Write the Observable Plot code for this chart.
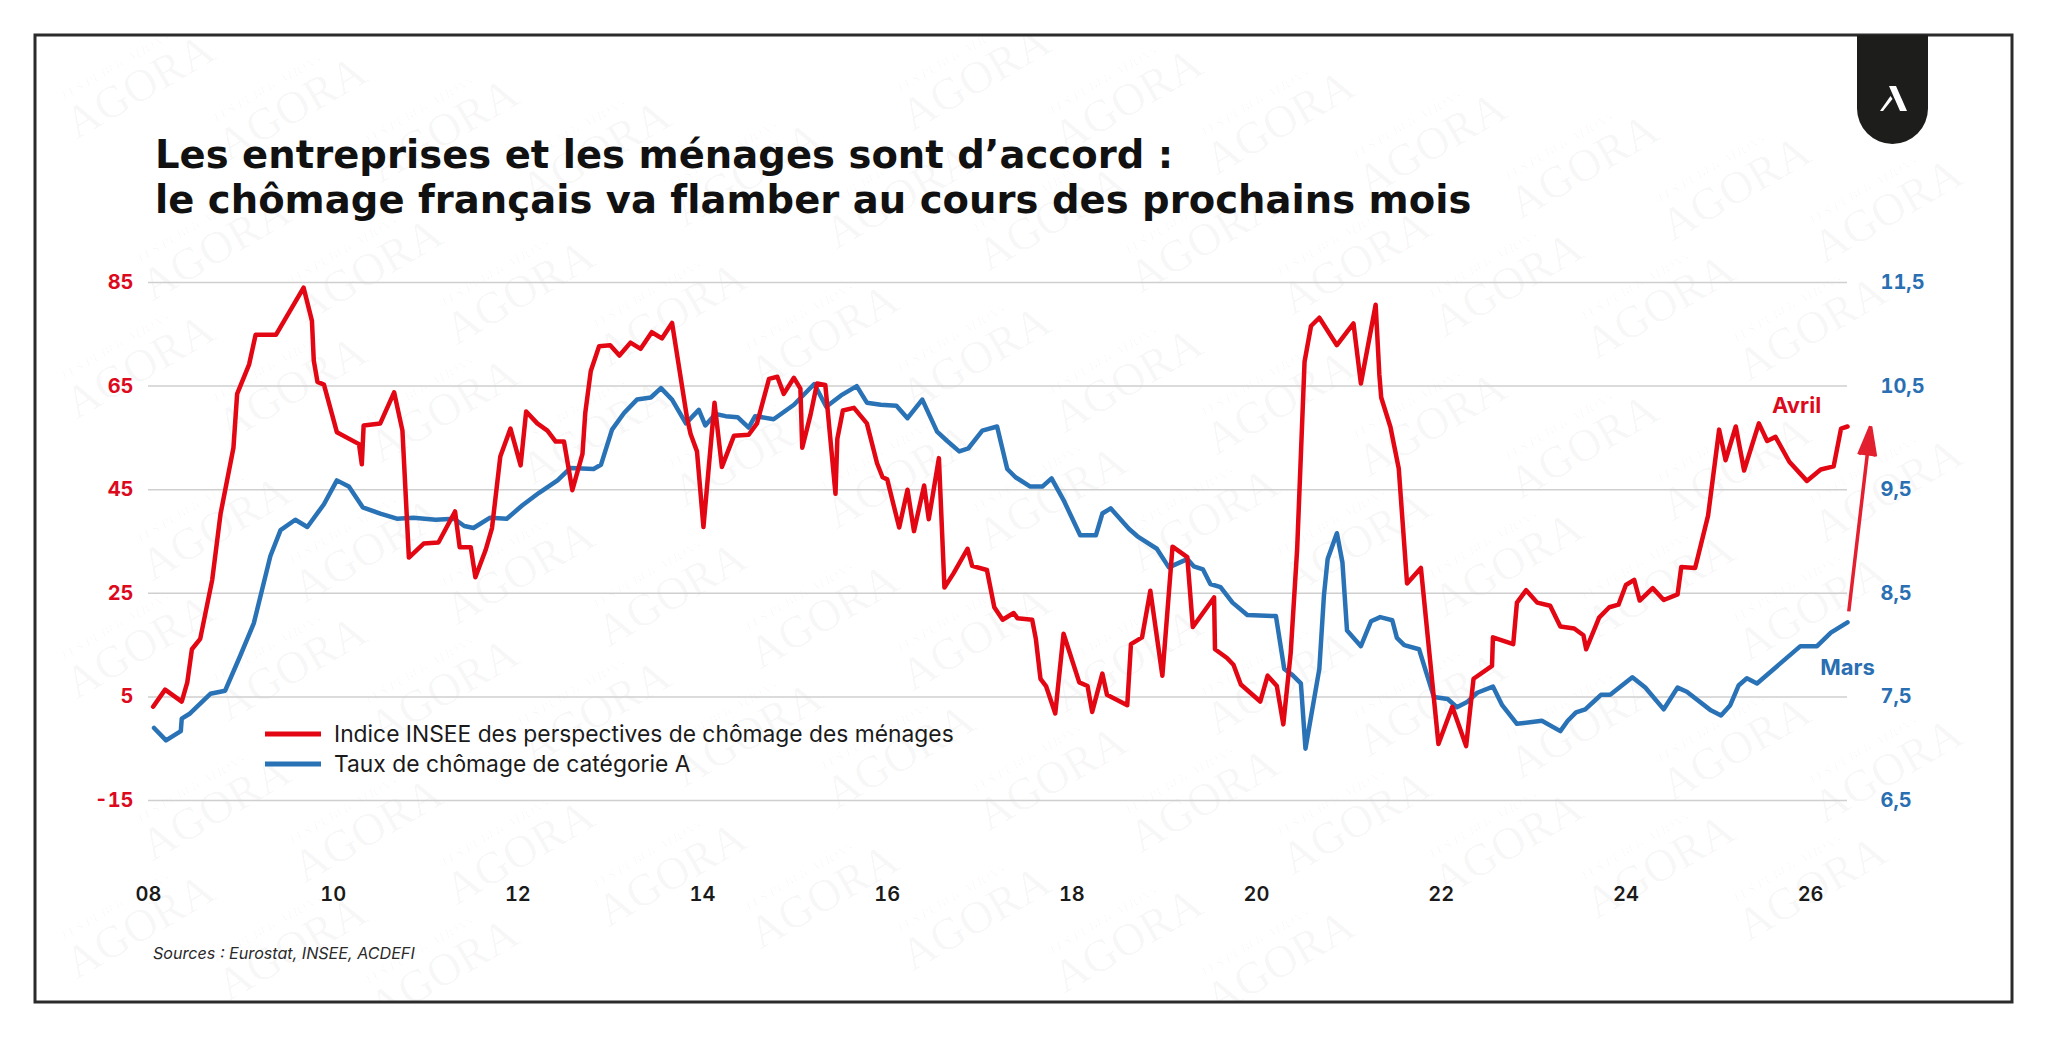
<!DOCTYPE html>
<html lang="fr">
<head>
<meta charset="utf-8">
<script src="https://cdn.jsdelivr.net/npm/d3@7"></script>
<script src="https://cdn.jsdelivr.net/npm/@observablehq/plot@0.6"></script>
<style>
  html, body { margin: 0; padding: 0; background: #fff; }
  body { width: 2048px; height: 1038px; position: relative; overflow: hidden; font-family: Inter, "Noto Sans", sans-serif; }
  .layer { position: absolute; left: 0; top: 0; width: 2048px; height: 1038px; }
  #decor { pointer-events: none; }
  #chart svg { max-width: none; }
</style>
</head>
<body>
<svg id="watermark" class="layer" width="2048" height="1038" aria-hidden="true"></svg>
<div id="chart" class="layer"></div>
<svg id="decor" class="layer" width="2048" height="1038"></svg>
<script>
// Indice INSEE des perspectives de chômage des ménages (solde, échelle de gauche)
const indiceDates = [
  2008.05, 2008.18, 2008.36, 2008.42, 2008.47, 2008.56, 2008.69, 2008.78, 2008.92, 2008.96,
  2009.09, 2009.16, 2009.38, 2009.68, 2009.77, 2009.79, 2009.83, 2009.90, 2010.04, 2010.28,
  2010.31, 2010.33, 2010.51, 2010.66, 2010.75, 2010.82, 2010.98, 2011.14, 2011.32, 2011.37,
  2011.49, 2011.54, 2011.65, 2011.72, 2011.81, 2011.92, 2012.03, 2012.09, 2012.21, 2012.32,
  2012.41, 2012.50, 2012.59, 2012.70, 2012.73, 2012.79, 2012.88, 2013.00, 2013.10, 2013.22,
  2013.33, 2013.45, 2013.56, 2013.67, 2013.83, 2013.87, 2013.94, 2014.01, 2014.13, 2014.21,
  2014.34, 2014.50, 2014.59, 2014.72, 2014.81, 2014.88, 2014.99, 2015.06, 2015.08, 2015.17,
  2015.24, 2015.33, 2015.44, 2015.46, 2015.52, 2015.64, 2015.78, 2015.89, 2015.95, 2016.00,
  2016.13, 2016.22, 2016.29, 2016.40, 2016.45, 2016.56, 2016.62, 2016.72, 2016.87, 2016.92,
  2017.08, 2017.16, 2017.25, 2017.37, 2017.41, 2017.57, 2017.61, 2017.66, 2017.72, 2017.82,
  2017.91, 2018.08, 2018.17, 2018.22, 2018.33, 2018.38, 2018.60, 2018.64, 2018.76, 2018.85,
  2018.98, 2019.09, 2019.25, 2019.31, 2019.54, 2019.55, 2019.68, 2019.75, 2019.83, 2020.04,
  2020.12, 2020.22, 2020.29, 2020.37, 2020.44, 2020.52, 2020.59, 2020.68, 2020.87, 2021.05,
  2021.13, 2021.29, 2021.33, 2021.35, 2021.45, 2021.54, 2021.63, 2021.78, 2021.97, 2022.12,
  2022.27, 2022.35, 2022.55, 2022.56, 2022.78, 2022.82, 2022.92, 2023.04, 2023.18, 2023.29,
  2023.44, 2023.54, 2023.57, 2023.71, 2023.82, 2023.92, 2024.00, 2024.09, 2024.15, 2024.29,
  2024.41, 2024.56, 2024.60, 2024.75, 2024.89, 2025.01, 2025.08, 2025.19, 2025.28, 2025.44,
  2025.53, 2025.62, 2025.77, 2025.96, 2026.11, 2026.25, 2026.33, 2026.40
];
const indiceValues = [
  3.1, 6.4, 4.1, 7.8, 14.2, 16.2, 27.6, 40.3, 53.1, 63.5,
  69.2, 74.9, 74.9, 84.0, 77.6, 69.9, 65.8, 65.3, 56.1, 53.8,
  49.9, 57.4, 57.8, 63.8, 56.4, 31.9, 34.6, 34.8, 40.8, 33.9,
  33.9, 28.1, 33.3, 37.6, 51.4, 56.8, 49.7, 60.1, 57.8, 56.4,
  54.3, 54.3, 44.9, 51.9, 59.8, 67.9, 72.7, 72.9, 70.9, 73.4,
  72.2, 75.4, 74.2, 77.2, 59.1, 55.8, 52.4, 37.8, 61.8, 49.4,
  55.4, 55.6, 57.8, 66.4, 66.8, 63.5, 66.6, 64.5, 53.1, 59.5,
  65.5, 65.2, 44.2, 54.8, 60.3, 60.8, 57.8, 50.1, 47.4, 47.0,
  37.7, 45.0, 37.0, 45.8, 39.3, 51.1, 26.1, 28.9, 33.6, 30.3,
  29.5, 22.3, 19.9, 21.2, 20.2, 19.9, 16.2, 8.5, 7.1, 1.8,
  17.2, 7.8, 7.1, 2.1, 9.5, 5.4, 3.4, 15.2, 16.5, 25.5,
  9.1, 34.0, 32.0, 18.5, 24.2, 14.2, 12.5, 11.2, 7.4, 4.1,
  9.1, 7.1, -0.3, 13.5, 33.6, 69.7, 76.6, 78.2, 72.9, 77.1,
  65.5, 80.7, 67.2, 62.8, 57.1, 49.1, 26.9, 29.9, -4.1, 3.1,
  -4.5, 8.5, 11.0, 16.5, 15.2, 23.2, 25.6, 23.2, 22.6, 18.6,
  18.2, 16.9, 14.2, 20.3, 22.3, 22.8, 26.6, 27.6, 23.6, 26.0,
  23.7, 24.8, 30.1, 29.9, 40.0, 56.6, 50.7, 57.2, 48.7, 57.8,
  54.4, 55.2, 50.4, 46.7, 48.9, 49.5, 56.8, 57.2
];

// Taux de chômage de catégorie A (%, échelle de droite)
const tauxDates = [
  2008.06, 2008.19, 2008.35, 2008.36, 2008.45, 2008.67, 2008.83, 2008.99, 2009.14, 2009.32,
  2009.43, 2009.59, 2009.72, 2009.90, 2010.04, 2010.17, 2010.32, 2010.51, 2010.69, 2010.87,
  2011.11, 2011.31, 2011.42, 2011.52, 2011.70, 2011.88, 2012.05, 2012.23, 2012.43, 2012.57,
  2012.82, 2012.90, 2013.02, 2013.15, 2013.29, 2013.44, 2013.55, 2013.67, 2013.82, 2013.96,
  2014.03, 2014.14, 2014.25, 2014.38, 2014.50, 2014.57, 2014.77, 2014.99, 2015.21, 2015.34,
  2015.50, 2015.67, 2015.78, 2015.93, 2016.10, 2016.22, 2016.38, 2016.54, 2016.65, 2016.78,
  2016.88, 2017.03, 2017.19, 2017.30, 2017.39, 2017.55, 2017.68, 2017.78, 2017.91, 2018.09,
  2018.26, 2018.33, 2018.42, 2018.62, 2018.71, 2018.92, 2019.05, 2019.25, 2019.32, 2019.42,
  2019.50, 2019.61, 2019.74, 2019.90, 2020.21, 2020.30, 2020.39, 2020.48, 2020.53, 2020.68,
  2020.73, 2020.77, 2020.87, 2020.93, 2020.98, 2021.13, 2021.24, 2021.34, 2021.47, 2021.52,
  2021.60, 2021.76, 2021.92, 2022.07, 2022.17, 2022.28, 2022.39, 2022.56, 2022.66, 2022.82,
  2023.09, 2023.29, 2023.37, 2023.46, 2023.56, 2023.67, 2023.73, 2023.83, 2024.07, 2024.21,
  2024.41, 2024.56, 2024.66, 2024.92, 2025.03, 2025.13, 2025.22, 2025.31, 2025.42, 2025.89,
  2026.07, 2026.22, 2026.40
];
const tauxValues = [
  7.20, 7.08, 7.17, 7.29, 7.34, 7.53, 7.56, 7.89, 8.21, 8.86,
  9.11, 9.21, 9.14, 9.36, 9.59, 9.53, 9.33, 9.27, 9.22, 9.23,
  9.21, 9.22, 9.15, 9.13, 9.23, 9.22, 9.35, 9.47, 9.59, 9.71,
  9.70, 9.74, 10.08, 10.24, 10.37, 10.39, 10.48, 10.37, 10.14, 10.27,
  10.12, 10.23, 10.21, 10.20, 10.10, 10.21, 10.18, 10.32, 10.52, 10.30,
  10.41, 10.50, 10.34, 10.32, 10.31, 10.19, 10.37, 10.06, 9.97, 9.87,
  9.90, 10.07, 10.11, 9.70, 9.62, 9.53, 9.53, 9.61, 9.40, 9.06,
  9.06, 9.27, 9.32, 9.12, 9.05, 8.93, 8.75, 8.83, 8.76, 8.73,
  8.59, 8.56, 8.41, 8.29, 8.28, 7.77, 7.71, 7.63, 7.00, 7.77,
  8.48, 8.83, 9.08, 8.80, 8.14, 7.99, 8.23, 8.27, 8.24, 8.07,
  8.00, 7.96, 7.50, 7.48, 7.40, 7.45, 7.54, 7.60, 7.42, 7.24,
  7.27, 7.17, 7.27, 7.35, 7.38, 7.47, 7.52, 7.52, 7.69, 7.59,
  7.38, 7.59, 7.55, 7.37, 7.32, 7.42, 7.61, 7.68, 7.63, 7.99,
  7.99, 8.12, 8.22
];

const leftTicks = [85, 65, 45, 25, 5, -15];
const yearTicks = [2008, 2010, 2012, 2014, 2016, 2018, 2020, 2022, 2024, 2026];
const titleLines = [
  "Les entreprises et les ménages sont d’accord :",
  "le chômage français va flamber au cours des prochains mois"
];
const legendLabels = [
  "Indice INSEE des perspectives de chômage des ménages",
  "Taux de chômage de catégorie A"
];
const endLabels = ["Avril", "Mars"];
const sourceText = "Sources : Eurostat, INSEE, ACDEFI";
const watermarkLines = ["LES PUBLICATIONS", "AGORA"];

const RED = "#e30613";
const BLUE = "#2a72b6";
const RED_TXT = "#dc0a1c";
const BLUE_TXT = "#2a6fb2";

// The right axis (taux, %) is tied to the left axis: 6,5 ↔ -15 and 11,5 ↔ 85
const rateToLeft = (r) => 20 * r - 145;
const leftToRate = (v) => (v + 145) / 20;

const indice = indiceDates.map((d, i) => ({year: d, value: indiceValues[i]}));
const taux = tauxDates.map((d, i) => ({year: d, rate: tauxValues[i]}));
const lastIndice = indice[indice.length - 1];
const lastTaux = taux[taux.length - 1];
// Arrow from the latest rate towards the level of the latest household index, one quarter ahead
const fleche = [{x1: lastTaux.year, y1: rateToLeft(lastTaux.rate), x2: lastIndice.year + 0.25, y2: lastIndice.value}];

const chart = Plot.plot({
  width: 2048,
  height: 1038,
  marginLeft: 148,
  marginRight: 201,
  marginTop: 282,
  marginBottom: 238,
  style: {background: "none", fontFamily: "Inter, 'Noto Sans', sans-serif"},
  x: {type: "linear", domain: [2008, 2026.4]},
  y: {domain: [-15, 85]},
  marks: [
    Plot.gridY(leftTicks, {stroke: "#cfcfcf", strokeOpacity: 1, strokeWidth: 1.5}),
    Plot.axisY(leftTicks, {anchor: "left", tickSize: 0, tickPadding: 15, label: null,
      tickFormat: (d) => String(d), fill: RED_TXT, fontSize: 20, fontWeight: 700}),
    Plot.axisY(leftTicks, {anchor: "right", tickSize: 0, tickPadding: 33, label: null,
      tickFormat: (d) => leftToRate(d).toFixed(1).replace(".", ","), fill: BLUE_TXT, fontSize: 20, fontWeight: 700}),
    Plot.axisX(yearTicks, {anchor: "bottom", tickSize: 0, tickPadding: 86, label: null,
      tickFormat: (d) => String(d).slice(2), fill: "#1a1a1a", fontSize: 20, fontWeight: 600}),
    Plot.line(taux, {x: "year", y: (d) => rateToLeft(d.rate), stroke: BLUE, strokeWidth: 4.5, strokeLinejoin: "round"}),
    Plot.line(indice, {x: "year", y: "value", stroke: RED, strokeWidth: 4.5, strokeLinejoin: "round"}),
    Plot.arrow(fleche, {x1: "x1", y1: "y1", x2: "x2", y2: "y2", stroke: "#e3202f", fill: "#e3202f",
      strokeWidth: 3.5, headLength: 13, headAngle: 32, insetStart: 11, strokeLinecap: "butt", strokeLinejoin: "miter"}),
    Plot.text([lastIndice], {x: "year", y: "value", text: () => endLabels[0], dx: -51, dy: -21,
      fill: RED_TXT, fontSize: 22, fontWeight: 700}),
    Plot.text([lastTaux], {x: "year", y: (d) => rateToLeft(d.rate), text: () => endLabels[1], dx: 0, dy: 46,
      fill: BLUE_TXT, fontSize: 22, fontWeight: 700})
  ]
});
document.getElementById("chart").append(chart);

// Frame, title, legend, source and logo
const decor = d3.select("#decor");
decor.append("rect").attr("x", 35).attr("y", 35).attr("width", 1977).attr("height", 967)
  .attr("fill", "none").attr("stroke", "#2b2b2b").attr("stroke-width", 3);

// Scale a text's font size so that the given node spans the target width
function fitSize(textSel, node, target) {
  const w = node.getComputedTextLength();
  const fs = parseFloat(textSel.attr("font-size"));
  const size = fs * target / w;
  textSel.attr("font-size", size);
  return size;
}

// Two-line title on a 45px leading: a wide bold face at a size whose line box fits the
// leading, with tight tracking bringing the second line to its width
const title = decor.append("g").attr("font-family", "'DejaVu Sans', 'Noto Sans', sans-serif")
  .attr("font-weight", 700).attr("fill", "#111").attr("font-size", 38.5);
const t1 = title.append("text").attr("x", 155).attr("y", 168).text(titleLines[0]);
const t2 = title.append("text").attr("x", 155).attr("y", 213).text(titleLines[1]);
const tracking = (1315 - t2.node().getComputedTextLength()) / titleLines[1].length;
title.attr("letter-spacing", tracking);

const legend = decor.append("g").attr("font-family", "Inter, 'Noto Sans', sans-serif").attr("fill", "#1a1a1a");
[[RED, 734], [BLUE, 764]].forEach(([color, y]) => {
  legend.append("line").attr("x1", 265).attr("x2", 321).attr("y1", y).attr("y2", y)
    .attr("stroke", color).attr("stroke-width", 5);
});
const l1 = legend.append("text").attr("x", 334).attr("y", 741.5).attr("font-size", 21).text(legendLabels[0]);
const legendSize = fitSize(l1, l1.node(), 620);
legend.append("text").attr("x", 334).attr("y", 771.5).attr("font-size", legendSize).text(legendLabels[1]);

const src = decor.append("text").attr("x", 153).attr("y", 959).attr("font-size", 17)
  .attr("font-style", "italic").attr("fill", "#2a2a2a")
  .attr("font-family", "Inter, 'Noto Sans', sans-serif").text(sourceText);
fitSize(src, src.node(), 262);

const logo = decor.append("g");
logo.append("path").attr("d", "M1857,35 H1928 V108.5 A35.5,35.5 0 0 1 1857,108.5 Z").attr("fill", "#1d1d1b");
logo.append("path").attr("d", "M1889,86 L1896,86 L1907,111 L1900,111 Z").attr("fill", "#fff");
logo.append("path").attr("d", "M1890.5,96 L1892.5,99 L1883,111 L1880,111 Z").attr("fill", "#fff");

// Faint publisher watermark tiled across the framed area (clipped to the frame),
// each copy kept whole within the page
const wm = d3.select("#watermark");
wm.append("clipPath").attr("id", "frame-clip")
  .append("rect").attr("x", 36).attr("y", 36).attr("width", 1975).attr("height", 965);
const tiles = wm.append("g").attr("clip-path", "url(#frame-clip)");
for (let r = -4; r < 12; r++) {
  for (let c = -1; c < 15; c++) {
    const x = c * 152 + (r % 2 === 0 ? 0 : 76);
    const y = r * 140 + c * 22;
    if (y < -80 || y > 1120) continue;
    const g = tiles.append("g").attr("transform", `translate(${x},${y}) rotate(-30)`)
      .attr("fill", "#000").attr("fill-opacity", 0.035)
      .attr("font-family", "'Liberation Serif', 'DejaVu Serif', serif");
    g.append("text").attr("x", 10).attr("y", -40).attr("font-size", 13).attr("font-style", "italic")
      .attr("letter-spacing", 0.5).text(watermarkLines[0]);
    g.append("text").attr("x", 0).attr("y", 0).attr("font-size", 46).text(watermarkLines[1]);
    const box = g.node().getBoundingClientRect();
    const inPage = box.left > 2 && box.top > 2 && box.right < 2046 && box.bottom < 1036;
    if (!inPage) g.remove();
  }
}
</script>
</body>
</html>
